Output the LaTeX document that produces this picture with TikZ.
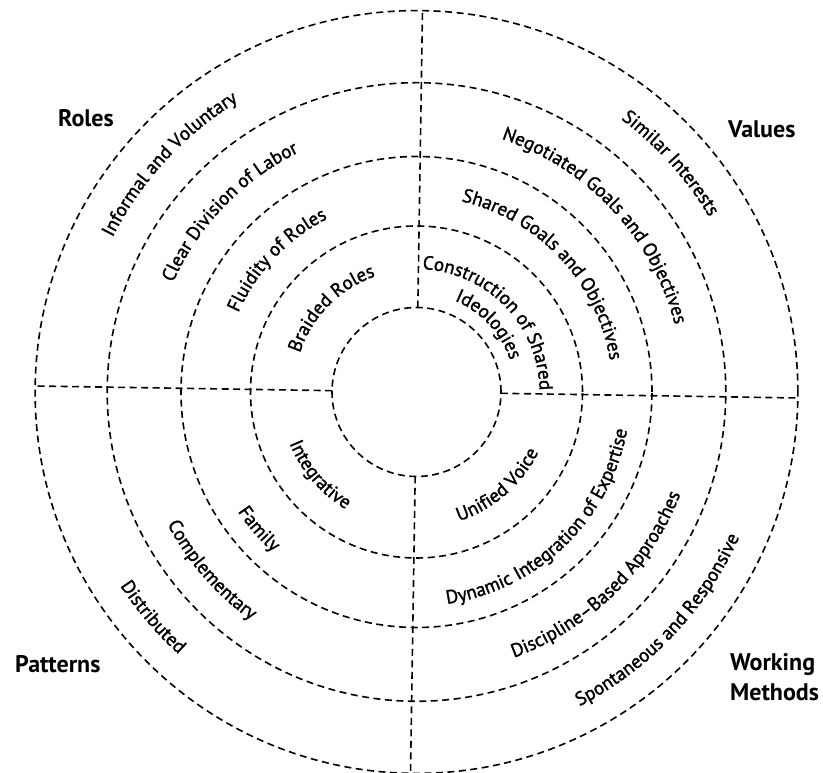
\documentclass[tikz,border=0pt]{standalone}
\usepackage{fontspec}
\setmainfont{PT Sans}
\newfontfamily\ringfam[FakeBold=1.5]{PT Sans}
\usetikzlibrary{decorations.text,calc}
\newcommand\ringfont{\ringfam\fontsize{19}{22}\selectfont}
\newcommand\toparc[3]{\path[decorate,decoration={text along path,text align=center,text={|\ringfont|#3}}] ([shift={(#1+70:#2)}]C) arc[start angle=#1+70,end angle=#1-70,radius=#2];}
\newcommand\botarc[3]{\path[decorate,decoration={text along path,text align=center,text={|\ringfont|#3}}] ([shift={(#1-70:#2)}]C) arc[start angle=#1-70,end angle=#1+70,radius=#2];}
\tikzset{
  ring/.style={draw=black, line width=1.6pt, dash pattern=on 7pt off 4.5pt},
  lab/.style={font=\fontsize{24}{30}\selectfont\bfseries, inner sep=0pt}
}
\begin{document}
\begin{tikzpicture}[x=1pt,y=1pt]
\useasboundingbox (0,0) rectangle (823,773);
\fill[white] (0,0) rectangle (823,773);
\coordinate (C) at (416.5,381);
% circles
\foreach \r in {84.5,166,235.5,309.3,381.4}{\draw[ring] (C) circle[radius=\r];}
% dividing lines (slightly rotated as in the reference)
\coordinate (T0) at ([shift={(89.1:84.5)}]C);
\coordinate (T4) at ([shift={(89.1:381.4)}]C);
\coordinate (L0) at ([shift={(179.1:84.5)}]C);
\coordinate (L4) at ([shift={(179.1:381.4)}]C);
\coordinate (R0) at ([shift={(-0.9:84.5)}]C);
\coordinate (R4) at ([shift={(-0.9:381.4)}]C);
\coordinate (B0) at ([shift={(269.1:84.5)}]C);
\coordinate (B4) at ([shift={(269.1:381.4)}]C);
\draw[ring] (T0) -- (T4);
\draw[ring] (L0) -- (L4);
\draw[ring] (R0) -- (R4);
\draw[ring] (B0) -- (B4);
% Roles quadrant
\toparc{135.5}{123}{Braided Roles}
\toparc{136.6}{195}{Fluidity of Roles}
\toparc{136}{267}{Clear Division of Labor}
\toparc{137.3}{341}{Informal and Voluntary}
% Values quadrant
\toparc{44}{123}{Construction of Shared}
\toparc{43}{99}{Ideologies}
\toparc{43}{196}{Shared Goals and Objectives}
\toparc{43}{267}{Negotiated Goals and Objectives}
\toparc{42}{341}{Similar Interests}
% Working methods quadrant
\botarc{-49}{136}{Unified Voice}
\botarc{-46}{214}{Dynamic Integration of Expertise}
\botarc{-45.5}{283}{Discipline–Based Approaches}
\botarc{-43.4}{354}{Spontaneous and Responsive}
% Patterns quadrant
\botarc{220.5}{137}{Integrative}
\botarc{221}{215}{Family}
\botarc{221}{282}{Complementary}
\botarc{220.5}{354}{Distributed}
% quadrant titles
\node[lab, anchor=base west] (roles) at (58,646) {Roles};
\node[lab, anchor=base west] (values) at (728,635) {Values};
\node[lab, anchor=base west] (patterns) at (15,100) {Patterns};
\node[lab, anchor=north west, align=left] (working) at (730,120) {Working\\Methods};
\end{tikzpicture}
\end{document}
